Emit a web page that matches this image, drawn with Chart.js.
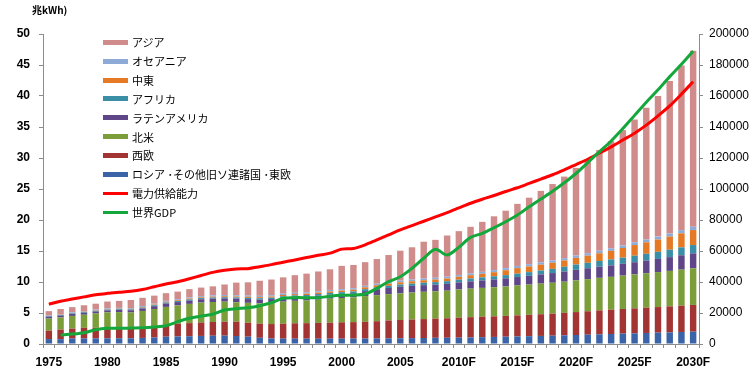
<!DOCTYPE html>
<html>
<head>
<meta charset="utf-8">
<script src="https://cdn.jsdelivr.net/npm/chart.js@4.4.1/dist/chart.umd.min.js"></script>
<style>
  html, body { margin: 0; padding: 0; background: #fff; }
  #wrap { position: relative; width: 750px; height: 391px; }
  #unit { position: absolute; left: 32px; top: 2px; font: bold 10px "Noto Sans CJK JP", sans-serif; color: #000; }
  #legend { position: absolute; left: 103px; top: 33px; font: 11px "Noto Sans CJK JP", sans-serif; color: #000; }
  .row { height: 18.85px; display: flex; align-items: center; white-space: nowrap; }
  .sw { width: 25px; margin-right: 4px; }
</style>
</head>
<body>
<div id="wrap">
  <canvas id="powerChart"></canvas>
  <div id="unit">兆kWh)</div>
  <div id="legend"></div>
</div>
<script>
const years = ['1975','1976','1977','1978','1979','1980','1981','1982','1983','1984',
  '1985','1986','1987','1988','1989','1990','1991','1992','1993','1994',
  '1995','1996','1997','1998','1999','2000','2001','2002','2003','2004',
  '2005','2006','2007','2008','2009','2010F','2011F','2012F','2013F','2014F',
  '2015F','2016F','2017F','2018F','2019F','2020F','2021F','2022F','2023F','2024F',
  '2025F','2026F','2027F','2028F','2029F','2030F'];

// 兆kWh
const russia = [0.80,0.78,0.88,0.90,0.90,0.91,0.92,0.92,0.98,1.05, 1.18,1.22,1.25,1.30,1.33,1.35,1.29,1.18,1.00,0.90,
  0.86,0.86,0.86,0.85,0.86,0.86,0.87,0.88,0.90,0.91, 0.92,0.95,0.97,1.00,1.00,1.02,1.06,1.10,1.14,1.18,
  1.22,1.26,1.30,1.34,1.40,1.45,1.50,1.56,1.61,1.67, 1.72,1.78,1.83,1.88,1.94,1.99];
const westEurope = [1.35,1.55,1.60,1.72,1.72,1.72,1.72,1.68,1.75,1.85, 1.95,2.05,2.12,2.18,2.22,2.25,2.31,2.26,2.30,2.32,
  2.42,2.48,2.50,2.55,2.60,2.64,2.66,2.70,2.78,2.88, 2.95,3.00,3.05,3.10,3.15,3.23,3.27,3.30,3.32,3.36,
  3.40,3.45,3.50,3.56,3.62,3.70,3.78,3.86,3.92,3.98, 4.03,4.08,4.13,4.19,4.25,4.31];
const northAmerica = [1.95,1.95,2.05,2.10,2.30,2.47,2.50,2.48,2.60,2.75, 2.85,2.95,3.10,3.20,3.22,3.23,3.12,3.20,3.25,3.40,
  3.55,3.62,3.65,3.75,3.85,3.92,4.00,4.15,4.20,4.25, 4.30,4.35,4.40,4.40,4.45,4.55,4.60,4.65,4.70,4.75,
  4.82,4.88,4.94,4.98,5.03,5.10,5.18,5.25,5.30,5.38, 5.48,5.56,5.64,5.72,5.80,5.90];
const latinAmerica = [0.30,0.30,0.31,0.32,0.33,0.33,0.35,0.37,0.40,0.45, 0.54,0.54,0.54,0.54,0.54,0.54,0.60,0.60,0.62,0.63,
  0.64,0.64,0.64,0.65,0.65,0.65,0.65,0.80,0.95,1.00, 1.07,1.07,1.07,1.07,1.10,1.13,1.17,1.20,1.25,1.30,
  1.36,1.42,1.49,1.56,1.64,1.72,1.76,1.80,1.85,1.90, 1.96,2.03,2.12,2.22,2.32,2.42];
const africa = [0.10,0.10,0.10,0.11,0.11,0.12,0.12,0.13,0.14,0.15, 0.17,0.17,0.18,0.18,0.18,0.18,0.19,0.20,0.21,0.22,
  0.23,0.24,0.25,0.26,0.28,0.29,0.30,0.31,0.32,0.34, 0.35,0.37,0.39,0.41,0.43,0.45,0.47,0.49,0.51,0.52,
  0.54,0.58,0.62,0.68,0.76,0.85,0.88,0.92,0.96,1.00, 1.05,1.10,1.15,1.20,1.27,1.34];
const middleEast = [0.05,0.05,0.06,0.06,0.07,0.07,0.08,0.09,0.10,0.11, 0.12,0.13,0.14,0.14,0.15,0.16,0.16,0.17,0.18,0.19,
  0.20,0.21,0.22,0.23,0.24,0.25,0.27,0.30,0.32,0.34, 0.36,0.38,0.40,0.42,0.44,0.46,0.52,0.58,0.66,0.78,
  0.90,0.92,0.95,0.98,1.02,1.07,1.15,1.25,1.38,1.55, 1.72,1.85,1.98,2.12,2.27,2.42];
const oceania = [0.10,0.10,0.11,0.11,0.12,0.12,0.13,0.13,0.14,0.14, 0.15,0.16,0.17,0.18,0.19,0.19,0.20,0.20,0.21,0.21,
  0.22,0.22,0.23,0.23,0.24,0.24,0.25,0.25,0.26,0.27, 0.27,0.28,0.28,0.29,0.29,0.30,0.31,0.32,0.33,0.34,
  0.35,0.36,0.37,0.37,0.38,0.38,0.39,0.40,0.41,0.42, 0.43,0.45,0.47,0.49,0.51,0.54];
const asia = [0.65,0.82,0.84,0.93,0.95,1.11,1.13,1.30,1.34,1.30, 1.24,1.23,1.35,1.38,1.47,1.70,2.03,2.14,2.43,2.53,
  2.63,2.83,3.00,3.18,3.33,3.75,3.75,3.81,3.97,4.36, 4.83,5.20,5.94,6.11,6.64,7.06,7.50,8.06,8.69,9.27,
  10.01,10.73,11.53,12.33,13.15,14.13,15.16,16.26,17.27,18.60, 19.81,21.25,22.68,24.58,26.54,28.38];

// 電力供給能力 (兆kWh)
const supplyCapacity = [6.4,6.9,7.25,7.6,7.95,8.17,8.34,8.5,8.8,9.24, 9.68,10.05,10.53,11.05,11.55,11.88,12.1,12.15,12.47,12.8,
  13.2,13.55,13.95,14.3,14.65,15.3,15.4,16.0,16.8,17.6, 18.4,19.1,19.8,20.5,21.2,21.95,22.7,23.35,23.95,24.6,
  25.2,25.9,26.6,27.3,28.1,28.95,29.8,30.8,31.8,32.9, 34.0,35.3,36.8,38.4,40.3,42.3];
// 世界GDP (右軸)
const worldGDP = [null,5800,6400,7300,9200,10100,10100,10300,10500,11000, 11800,14400,16600,18000,19200,21900,22800,23400,24700,26700,
  29500,29900,29900,29900,30800,31400,31600,32300,35900,40200, 43400,48800,55300,61100,57400,62400,68800,71400,75000,78900,
  83200,88500,93500,98500,104000,110000,117000,124000,131000,139000, 147500,156000,164000,172500,180500,189000];

const barFont = { family: 'Liberation Sans, Arial, sans-serif', size: 12, weight: 'bold' };

function barSet(label, data, color) {
  return {
    type: 'bar', label: label, data: data, backgroundColor: color,
    stack: 'regions', yAxisID: 'y', order: 2,
    barPercentage: 0.55, categoryPercentage: 1.0
  };
}

const datasets = [
  barSet('ロシア ･その他旧ソ連諸国 ･東欧', russia, '#3a63a8'),
  barSet('西欧', westEurope, '#a23533'),
  barSet('北米', northAmerica, '#7b9e3a'),
  barSet('ラテンアメリカ', latinAmerica, '#5e4688'),
  barSet('アフリカ', africa, '#3a8ea6'),
  barSet('中東', middleEast, '#e67a24'),
  barSet('オセアニア', oceania, '#8eaad6'),
  barSet('アジア', asia, '#d08c8a'),
  {
    type: 'line', label: '電力供給能力', data: supplyCapacity, borderColor: '#ff0000',
    borderWidth: 3, pointRadius: 0, tension: 0.3, fill: false,
    stack: 'cap', yAxisID: 'y', order: 1
  },
  {
    type: 'line', label: '世界GDP', data: worldGDP, borderColor: '#14a83c',
    borderWidth: 3, pointRadius: 0, tension: 0.3, fill: false,
    yAxisID: 'y2', order: 0
  }
];

const chart = new Chart(document.getElementById('powerChart').getContext('2d'), {
  data: { labels: years, datasets: datasets },
  options: {
    responsive: true,
    maintainAspectRatio: false,
    animation: false,
    layout: { padding: { top: 34, left: 0, right: 0, bottom: 0 } },
    plugins: { legend: { display: false }, tooltip: { enabled: false } },
    scales: {
      x: {
        stacked: true,
        offset: true,
        grid: { display: true, drawOnChartArea: false, tickLength: 4, color: '#8c8c8c', offset: true },
        border: { color: '#8c8c8c' },
        ticks: {
          autoSkip: false, maxRotation: 0, minRotation: 0, padding: 7, color: '#000', font: barFont,
          callback: function (v, i) { return i % 5 === 0 ? years[i] : ''; }
        },
        afterFit: function (s) { s.height = 47; }
      },
      y: {
        position: 'left',
        stacked: true,
        min: 0, max: 50,
        grid: { drawOnChartArea: false, tickLength: 4, color: '#8c8c8c' },
        border: { color: '#8c8c8c' },
        ticks: { stepSize: 5, padding: 9, color: '#000', font: barFont },
        afterFit: function (s) { s.width = 43; }
      },
      y2: {
        position: 'right',
        min: 0, max: 200000,
        grid: { drawOnChartArea: false, tickLength: 4, color: '#8c8c8c' },
        border: { color: '#8c8c8c' },
        ticks: {
          stepSize: 20000, padding: 6, color: '#000',
          font: { family: 'Liberation Sans, Arial, sans-serif', size: 12 },
          callback: function (v) { return String(v); }
        },
        afterFit: function (s) { s.width = 51; }
      }
    }
  }
});

// 凡例（グラフ内左上）
const legendOrder = [7, 6, 5, 4, 3, 2, 1, 0, 8, 9];
const legendBox = document.getElementById('legend');
legendOrder.forEach(function (idx) {
  const ds = chart.data.datasets[idx];
  const row = document.createElement('div');
  row.className = 'row';
  const sw = document.createElement('div');
  sw.className = 'sw';
  if (ds.type === 'line') {
    sw.style.height = '3px';
    sw.style.background = ds.borderColor;
  } else {
    sw.style.height = '5px';
    sw.style.background = ds.backgroundColor;
  }
  const txt = document.createElement('span');
  txt.textContent = ds.label;
  row.appendChild(sw);
  row.appendChild(txt);
  legendBox.appendChild(row);
});
</script>
</body>
</html>
